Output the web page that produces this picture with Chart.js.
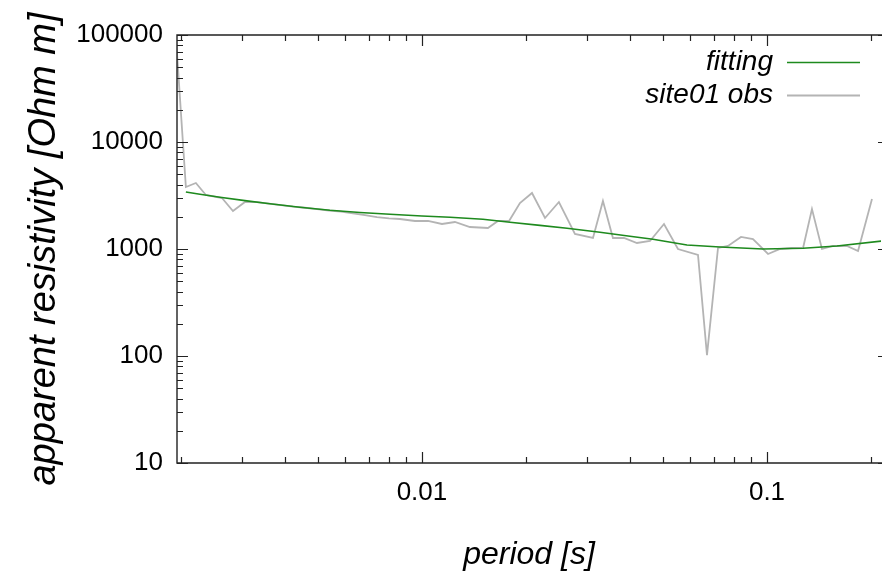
<!DOCTYPE html>
<html>
<head>
<meta charset="utf-8">
<script src="https://cdn.jsdelivr.net/npm/chart.js@4/dist/chart.umd.min.js"></script>
<style>
  html, body { margin: 0; padding: 0; background: #ffffff; }
  #wrap { width: 882px; height: 581px; }
</style>
</head>
<body>
<div id="wrap"><canvas id="c" width="882" height="581"></canvas></div>
<script>
// ---- data ----
const periodObs = [0.001898, 0.002069, 0.002212, 0.002365, 0.002633, 0.002833, 0.003069, 0.003323, 0.003601, 0.003902,
  0.004227, 0.004580, 0.004962, 0.005375, 0.005824, 0.006310, 0.006836, 0.007406, 0.008023, 0.008633,
  0.009544, 0.01041, 0.01143, 0.01246, 0.01377, 0.01553, 0.01661, 0.01788, 0.01923, 0.02084,
  0.02273, 0.02494, 0.02776, 0.03131, 0.03346, 0.03577, 0.03851, 0.04199, 0.04580, 0.05029,
  0.05521, 0.06310, 0.06700, 0.07211, 0.07709, 0.08406, 0.09108, 0.1007, 0.1091, 0.1182,
  0.1272, 0.1350, 0.1443, 0.1553, 0.1705, 0.1836, 0.2015];
const rhoObs = [250000, 3797, 4139, 3196, 2997, 2265, 2750, 2740, 2660, 2570,
  2490, 2430, 2360, 2290, 2240, 2150, 2070, 1990, 1930, 1907,
  1827, 1827, 1713, 1788, 1606, 1572, 1827, 1827, 2691, 3337,
  1949, 2750, 1381, 1267, 2809, 1267, 1267, 1138, 1188, 1713,
  1000, 879, 102, 1022, 1067, 1295, 1240, 898, 1000, 1022,
  1022, 2365, 1000, 1067, 1067, 958, 2934];
const periodFit = [0.002069, 0.002273, 0.002598, 0.003069, 0.003625, 0.004429, 0.005412, 0.006612, 0.008078, 0.01,
  0.01206, 0.01502, 0.01799, 0.02198, 0.02633, 0.03280, 0.04006, 0.04672, 0.05862, 0.07308,
  0.09736, 0.1272, 0.1595, 0.2154];
const rhoFit = [3410, 3245, 3048, 2834, 2650, 2460, 2300, 2195, 2110, 2034,
  1978, 1895, 1780, 1662, 1561, 1432, 1314, 1232, 1090, 1044,
  1000, 1015, 1067, 1188];
const seriesNames = ['fitting', 'site01 obs'];
const xTickValues = [0.01, 0.1];
const xTickLabels = ['0.01', '0.1'];
const yTickValues = [10, 100, 1000, 10000, 100000];
const yTickLabels = ['10', '100', '1000', '10000', '100000'];
const xTitle = 'period [s]';
const yTitle = 'apparent resistivity [Ohm m]';

const FONT = '"Liberation Sans", Arial, sans-serif';

function minorValues(lo, hi) {
  const out = [];
  for (let e = Math.floor(Math.log10(lo)); e <= Math.ceil(Math.log10(hi)); e++) {
    for (let m = 1; m <= 9; m++) {
      const v = m * Math.pow(10, e);
      if (v >= lo * 0.9999 && v <= hi * 1.0001) out.push({ v, major: m === 1 });
    }
  }
  return out;
}

const frameTicks = {
  id: 'frameTicks',
  afterDatasetsDraw(chart) {
    const { ctx, chartArea: a, scales: { x, y } } = chart;
    const W = chart.width;
    const rightBorder = a.right + 8; // frame's right side lies just beyond the picture
    ctx.save();
    ctx.strokeStyle = '#222222';
    ctx.lineWidth = 1.4;
    ctx.beginPath();
    ctx.moveTo(W, a.top); ctx.lineTo(a.left, a.top); ctx.lineTo(a.left, a.bottom); ctx.lineTo(W, a.bottom);
    ctx.stroke();
    ctx.lineWidth = 1.2;
    ctx.beginPath();
    for (const t of minorValues(x.min, x.max)) {
      const px = Math.round(x.getPixelForValue(t.v)) + 0.5;
      const len = t.major ? 11 : 6;
      ctx.moveTo(px, a.bottom); ctx.lineTo(px, a.bottom - len);
      ctx.moveTo(px, a.top); ctx.lineTo(px, a.top + len);
    }
    for (const t of minorValues(y.min, y.max)) {
      const py = Math.round(y.getPixelForValue(t.v)) + 0.5;
      const len = t.major ? 11 : 6;
      ctx.moveTo(a.left, py); ctx.lineTo(a.left + len, py);
      ctx.moveTo(rightBorder, py); ctx.lineTo(rightBorder - len, py);
    }
    ctx.stroke();

    // legend (text then sample line, gnuplot style)
    const ds = chart.data.datasets;
    ctx.font = 'italic 28px ' + FONT;
    ctx.textAlign = 'right';
    ctx.textBaseline = 'middle';
    ds.forEach((d, i) => {
      const ly = a.top + 27 + i * 33;
      ctx.fillStyle = '#000000';
      ctx.fillText(d.label, a.right - 108, ly);
      ctx.strokeStyle = d.borderColor;
      ctx.lineWidth = d.borderWidth;
      ctx.beginPath();
      ctx.moveTo(a.right - 94, ly + 0.5);
      ctx.lineTo(a.right - 21, ly + 0.5);
      ctx.stroke();
    });
    ctx.restore();
  }
};

new Chart(document.getElementById('c'), {
  type: 'line',
  data: {
    datasets: [
      {
        label: seriesNames[0],
        data: periodFit.map((p, i) => ({ x: p, y: rhoFit[i] })),
        borderColor: '#1e8a1e',
        borderWidth: 1.6,
        pointRadius: 0,
        tension: 0
      },
      {
        label: seriesNames[1],
        data: periodObs.map((p, i) => ({ x: p, y: rhoObs[i] })),
        borderColor: '#b4b4b4',
        borderWidth: 1.8,
        pointRadius: 0,
        tension: 0
      }
    ]
  },
  options: {
    responsive: false,
    animation: false,
    devicePixelRatio: 1,
    layout: { padding: { top: 35, right: 1, left: 0, bottom: 0 } },
    plugins: { legend: { display: false }, tooltip: { enabled: false } },
    scales: {
      x: {
        type: 'logarithmic',
        min: 0.00195,
        max: 0.214,
        afterBuildTicks: s => { s.ticks = xTickValues.map(v => ({ value: v })); },
        afterFit: s => { s.height = 118; },
        ticks: {
          autoSkip: false,
          maxRotation: 0,
          padding: 14,
          color: '#000000',
          font: { family: FONT, size: 26 },
          callback: (v) => { const i = xTickValues.findIndex(t => Math.abs(t - v) < 1e-9); return i >= 0 ? xTickLabels[i] : ''; }
        },
        grid: { display: false, drawTicks: false },
        border: { display: false },
        title: {
          display: true, text: xTitle, color: '#000000',
          font: { family: FONT, size: 32, style: 'italic' },
          padding: { top: 0, bottom: 7 }
        }
      },
      y: {
        type: 'logarithmic',
        min: 10,
        max: 100000,
        afterBuildTicks: s => { s.ticks = yTickValues.map(v => ({ value: v })); },
        afterFit: s => { s.width = 177; },
        ticks: {
          autoSkip: false,
          padding: 14,
          color: '#000000',
          font: { family: FONT, size: 26 },
          callback: (v) => { const i = yTickValues.indexOf(v); return i >= 0 ? yTickLabels[i] : ''; }
        },
        grid: { display: false, drawTicks: false },
        border: { display: false },
        title: {
          display: true, text: yTitle, color: '#000000',
          font: { family: FONT, size: 38, style: 'italic' },
          padding: { top: 22, bottom: 0 }
        }
      }
    }
  },
  plugins: [frameTicks]
});
</script>
</body>
</html>
